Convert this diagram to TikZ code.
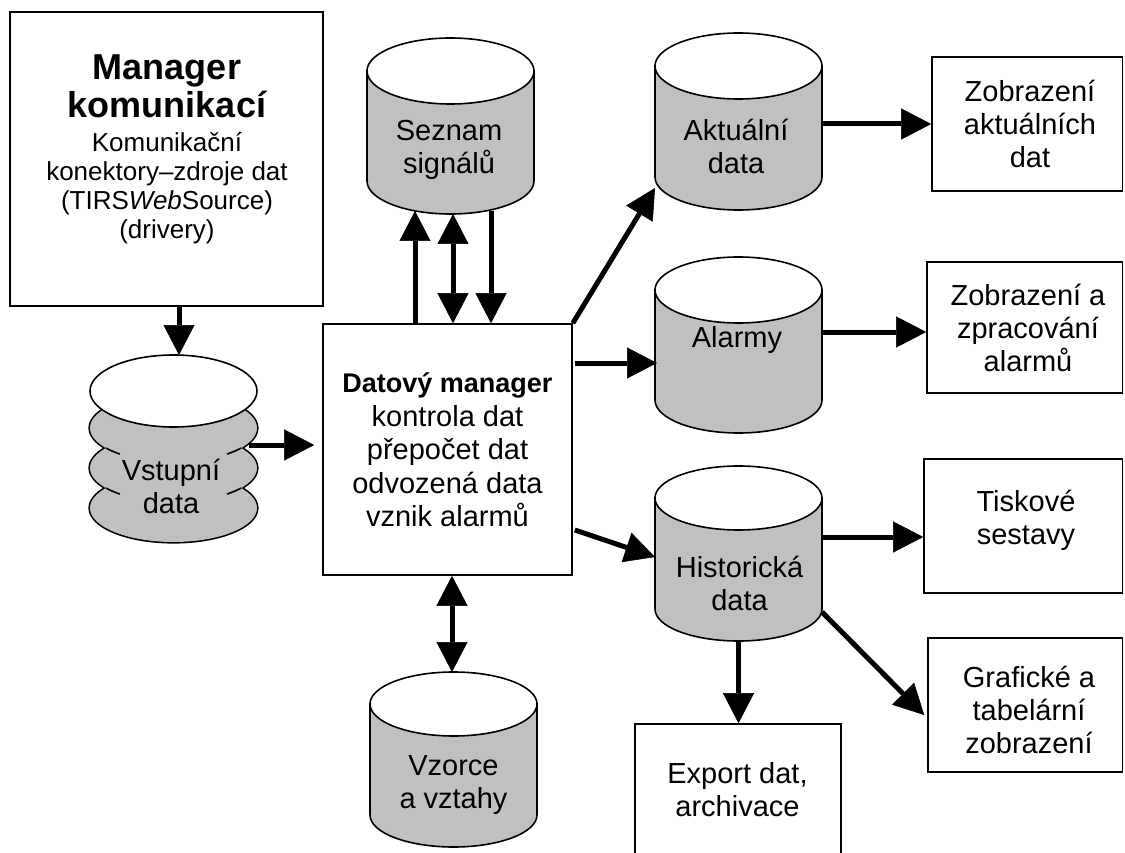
\documentclass[tikz,border=0pt]{standalone}
\usepackage{fontspec}
\setmainfont{Liberation Sans}
\usetikzlibrary{arrows.meta,calc}

\definecolor{dbgray}{RGB}{192,192,192}

\tikzset{
  box/.style={draw=black, line width=1.6pt, fill=white, inner sep=0pt},
  area/.style={inner sep=0pt, outer sep=0pt},
  txt/.style={align=center, inner sep=0pt, font=\fontsize{29}{33}\selectfont},
  dbline/.style={draw=black, line width=1.6pt},
  tip/.tip={Triangle[length=30pt,width=31pt,line width=0.5pt]},
  flow/.style={line width=5pt, -tip},
  flow2/.style={line width=5pt, tip-tip},
}

% database cylinder: name, centre x, top-ellipse y, bottom-ellipse y, y radius
\newcommand\dbcylinder[5]{%
  \path[dbline, fill=dbgray] (#2-83.5,#3) -- (#2-83.5,#4)
    arc[start angle=180, end angle=0, x radius=83.5, y radius=#5] -- (#2+83.5,#3) -- cycle;
  \path[dbline, fill=white] (#2,#3) ellipse[x radius=83.5, y radius=#5];
  \node[area, minimum width=167pt, minimum height={#4-#3+2*#5}] (#1) at (#2,{(#3+#4)/2}) {};
}

\begin{document}
\begin{tikzpicture}[x=1pt,y=-1pt]
\useasboundingbox (0,0) rectangle (1125,853);
\clip (0,0) rectangle (1125,853);

% ---- rectangular blocks
\node[box, minimum width=313pt, minimum height=294pt] (mgr) at (166.5,159) {};
\node[box, minimum width=249pt, minimum height=251pt] (dm) at (447.5,449.5) {};
\node[box, minimum width=190.5pt, minimum height=134pt] (zak) at (1027.25,124) {};
\node[box, minimum width=195.5pt, minimum height=131pt] (zal) at (1024.75,327.5) {};
\node[box, minimum width=198.5pt, minimum height=134pt] (tis) at (1023.25,526) {};
\node[box, minimum width=194.5pt, minimum height=134pt] (gra) at (1025.25,705) {};
\node[box, minimum width=206pt, minimum height=156pt] (exp) at (738,802) {};

% ---- block texts
\node[anchor=north, text width=300pt, align=center, inner sep=0pt] (mgr-t) at (167,54.5)
  {{\fontsize{36}{38.5}\selectfont\bfseries Manager\\komunikací\par}
   \vspace{5pt}{\fontsize{26}{29}\selectfont\spaceskip=0.28em\relax
   Komunikační\\konektory–zdroje dat\\(TIRS\textit{Web}Source)\\(drivery)\par}};
\node[txt, font=\fontsize{29}{33.5}\selectfont] (dm-t) at (447.5,450)
  {{\fontsize{27}{33.5}\selectfont\bfseries Datový manager}\\kontrola dat\\přepočet dat\\odvozená data\\vznik alarmů};
\node[txt] (zak-t) at (1030,124) {Zobrazení\\aktuálních\\dat};
\node[txt] (zal-t) at (1028,328) {Zobrazení a\\zpracování\\alarmů};
\node[txt] (tis-t) at (1026,520) {Tiskové\\sestavy};
\node[txt] (gra-t) at (1029,710) {Grafické a\\tabelární\\zobrazení};
\node[txt] (exp-t) at (737.5,790) {Export dat,\\archivace};

% ---- databases
\dbcylinder{sez}{450.5}{71}{181}{33}
\dbcylinder{akt}{738.5}{66}{177}{33}
\dbcylinder{alm}{738.5}{290}{400}{33}
\dbcylinder{his}{738.5}{498}{609}{32}
\dbcylinder{vzo}{453.5}{704}{815}{32}

\node[txt] (sez-t) at (449,150) {Seznam\\signálů};
\node[txt] (akt-t) at (736,146.5) {Aktuální\\data};
\node[txt] (alm-t) at (737,340) {Alarmy};
\node[txt] (his-t) at (739.5,583.5) {Historická\\data};
\node[txt] (vzo-t) at (453.5,785) {Vzorce\\a vztahy};

% ---- stacked input-data store
\foreach \cy in {428,468,508}
  \draw[line width=3.2pt] (173.5,\cy) ellipse[x radius=83.5, y radius=34];
\foreach \cy in {428,468,508}
  \fill[dbgray] (173.5,\cy) ellipse[x radius=83.5, y radius=34];
\foreach \cy in {428,468} {
  \draw[line width=1.6pt] ({173.5+83.5*cos(144)},{\cy+34*sin(144)})
    arc[start angle=144, end angle=130, x radius=83.5, y radius=34];
  \draw[line width=1.6pt] ({173.5+83.5*cos(36)},{\cy+34*sin(36)})
    arc[start angle=36, end angle=50, x radius=83.5, y radius=34];
}
\path[dbline, fill=white] (173.5,391) ellipse[x radius=83.5, y radius=36];
\node[area, minimum width=167pt, minimum height=187pt] (vst) at (173.5,448.5) {};
\node[txt] (vst-t) at (171,486) {Vstupní\\data};

% ---- connectors
\draw[flow] ([xshift=12.5pt]mgr.south) -- ([xshift=12.5pt]mgr.south |- vst.north);
\draw[flow] ([xshift=-8pt,yshift=3.5pt]vst.east) -- ([xshift=-8pt,yshift=3.5pt]vst.east -| dm.west);

\draw[flow]  ([xshift=-32.5pt]dm.north) -- ([xshift=-35.5pt,yshift=3pt]sez.south);
\draw[flow2] ([xshift=5.5pt]dm.north) -- ([xshift=2.5pt]sez.south);
\draw[flow]  ([xshift=40.5pt,yshift=3pt]sez.south) -- ([xshift=43.5pt]dm.north);

\draw[flow] (dm.north east) -- ([yshift=22pt]akt.south west);
\draw[flow] ([xshift=2pt,yshift=86.5pt]dm.east) -- ([xshift=2pt,yshift=86.5pt]dm.east -| alm.west);
\draw[flow] ([xshift=2pt,yshift=-80.5pt]dm.east) -- ([yshift=-3.5pt]his.west);
\draw[flow2] ([xshift=4.5pt]dm.south) -- ([xshift=4.5pt]dm.south |- vzo.north);

\draw[flow] (akt.east |- zak.west) -- (zak.west);
\draw[flow] ($(alm.east |- zal.west)+(0,4.5)$) -- ($(zal.west)+(0,4.5)$);
\draw[flow] ($(his.east |- tis.west)+(0,11)$) -- ($(tis.west)+(0,11)$);
\draw[flow] ($(his.east)+(0,58.5)$) -- ($(gra.west)+(-3,10)$);
\draw[flow] (his.south) -- (his.south |- exp.north);
\end{tikzpicture}
\end{document}
